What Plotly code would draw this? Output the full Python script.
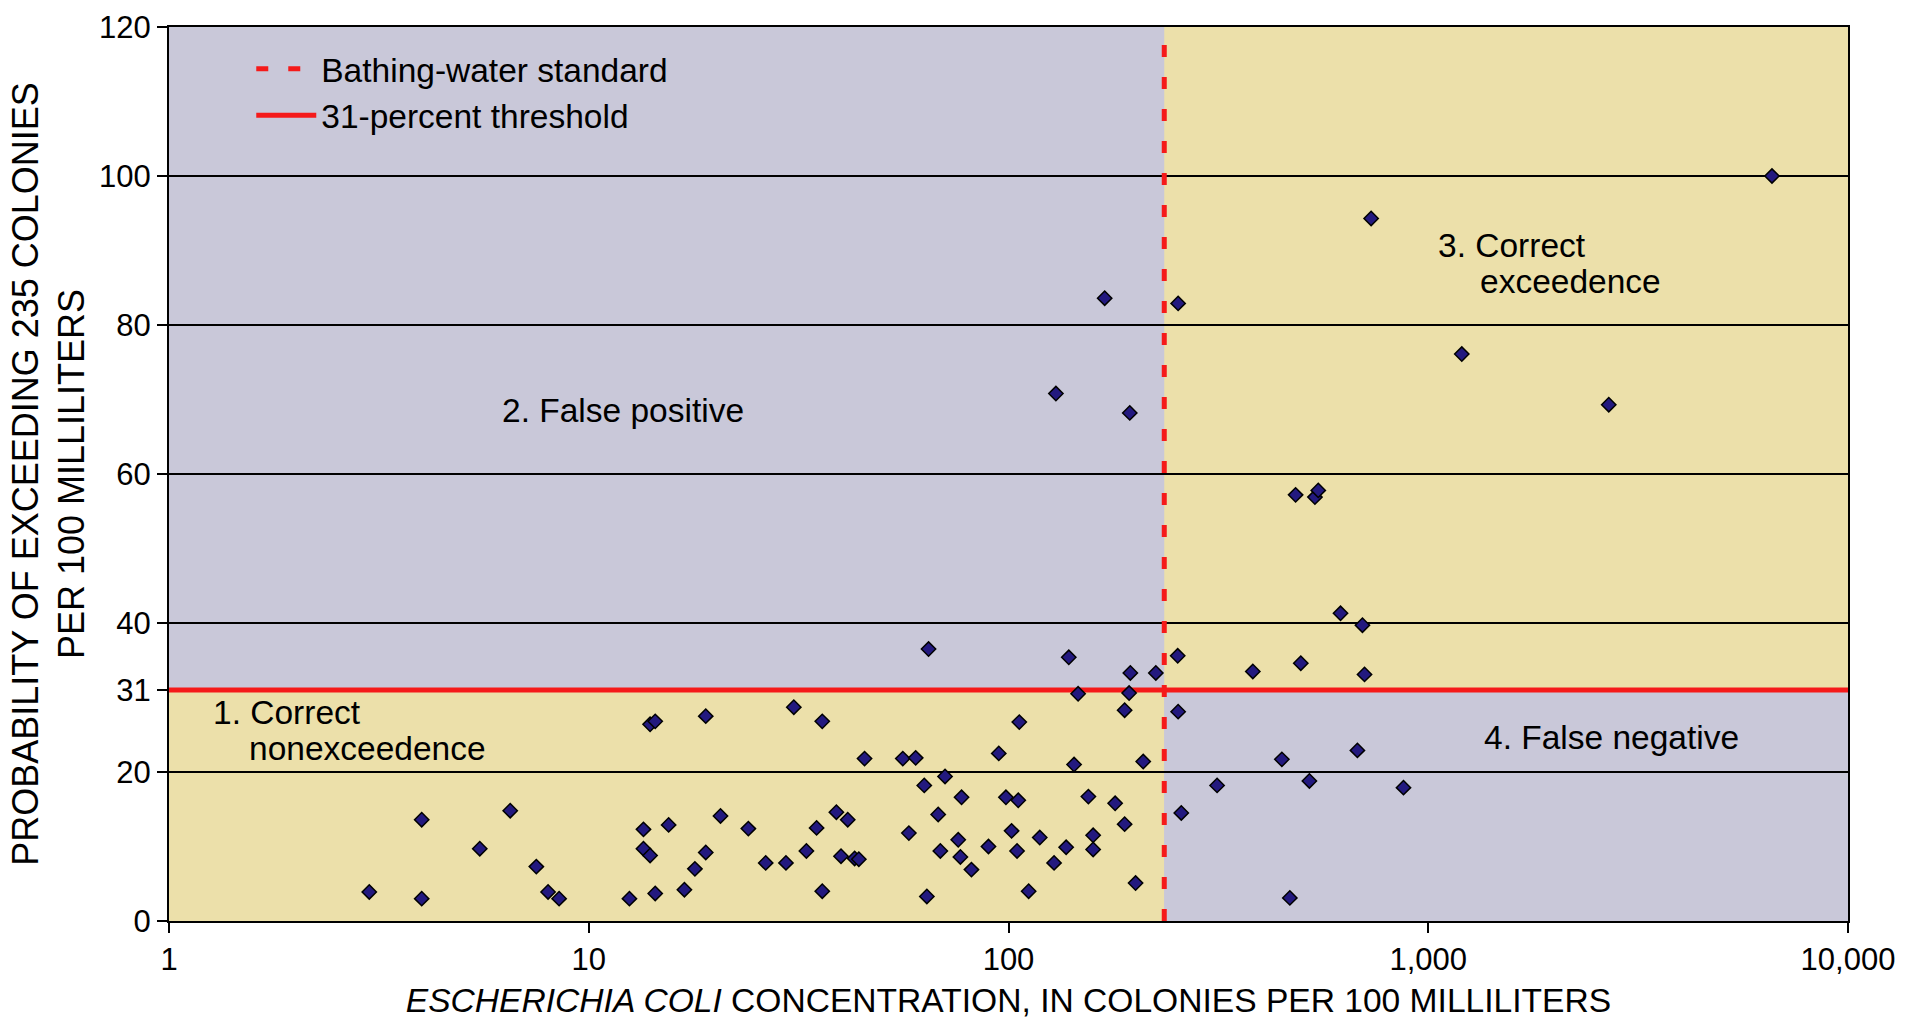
import math
import plotly.graph_objects as go

# ---------------- data ----------------
STANDARD = 235        # bathing-water standard, colonies per 100 mL
THRESHOLD = 31        # 31-percent probability threshold

ecoli = [3.0, 4.0, 4.0, 5.5, 6.5, 7.5, 8.0, 8.5, 12.5, 13.5, 13.5, 14.0, 14.0, 14.4, 14.4,
         15.5, 16.9, 17.9, 19.0, 19.0, 20.6, 24.0, 26.4, 29.5, 30.8, 33.0, 34.9, 36.0, 36.0,
         38.9, 39.9, 41.4, 43.0, 44.0, 45.4, 56.0, 57.9, 60.1, 63.0, 63.9, 68.0, 68.8, 70.6,
         75.9, 76.8, 77.3, 81.6, 89.6, 94.8, 98.6, 101.7, 104.8, 105.5, 106.1, 111.7, 118.7,
         128.4, 137.2, 143.3, 146.5, 155.0, 159.1, 159.1, 179.5, 189.1, 189.1, 193.8, 200.8,
         209.4,
         64.5, 129.7, 139.2, 169.5, 194.5, 195.1, 224.4,
         253.0, 253.6, 382, 483, 497, 537, 547, 618, 697, 705, 731, 1202, 2692, 6590,
         253.6, 258, 314, 448, 468, 521, 678, 873]

probability = [3.9, 13.6, 3.0, 9.7, 14.8, 7.3, 3.9, 3.0, 3.0, 12.3, 9.7, 8.8, 26.4, 26.8, 3.7,
               12.9, 4.2, 7.0, 27.5, 9.2, 14.1, 12.4, 7.8, 7.8, 28.7, 9.4, 12.5, 26.8, 4.0,
               14.6, 8.7, 13.6, 8.4, 8.3, 21.8, 21.8, 11.8, 21.9, 18.2, 3.3, 14.3, 9.4, 19.4,
               10.9, 8.6, 16.6, 6.9, 10.0, 22.5, 16.6, 12.1, 9.4, 16.2, 26.7, 4.0, 11.2,
               7.8, 9.9, 21.0, 30.5, 16.7, 11.5, 9.6, 15.8, 28.3, 13.0, 30.6, 5.1,
               21.4,
               36.5, 70.8, 35.4, 83.6, 68.2, 33.3, 33.3,
               35.6, 82.9, 33.5, 57.2, 34.6, 56.9, 57.8, 41.3, 39.7, 33.1, 94.3, 76.1, 69.3, 100.0,
               28.1, 14.5, 18.2, 21.7, 3.1, 18.8, 22.9, 17.9]

x_range = [1, 10000]
y_range = [0, 120]
x_tickvals = [1, 10, 100, 1000, 10000]
x_ticktext = ["1", "10", "100", "1,000", "10,000"]
y_tickvals = [0, 20, 31, 40, 60, 80, 100, 120]
y_ticktext = ["0", "20", "31", "40", "60", "80", "100", "120"]

region_labels = ["2. False positive", "1. Correct", "nonexceedence",
                 "3. Correct", "exceedence", "4. False negative"]
region_label_x = [6.14, 1.26, 1.53, 1046, 1315, 1342]
region_label_y = [68.5, 28.0, 23.2, 90.7, 85.9, 24.6]

# ---------------- styles ----------------
LAV = "#C9C8D9"
TAN = "#ECE0AA"
RED = "#F51A1A"
FONT = "Liberation Sans, Arial, sans-serif"

fig = go.Figure()

# quadrant backgrounds
quads = [
    (x_range[0], STANDARD, y_range[0], THRESHOLD, TAN),
    (x_range[0], STANDARD, THRESHOLD, y_range[1], LAV),
    (STANDARD, x_range[1], THRESHOLD, y_range[1], TAN),
    (STANDARD, x_range[1], y_range[0], THRESHOLD, LAV),
]
for x0, x1, y0, y1, c in quads:
    fig.add_shape(type="rect", xref="x", yref="y", x0=x0, x1=x1, y0=y0, y1=y1,
                  fillcolor=c, line=dict(width=0), layer="below")

fig.add_trace(go.Scatter(x=[STANDARD, STANDARD], y=y_range, mode="lines",
                         name="Bathing-water standard",
                         line=dict(color=RED, width=5, dash="12px,20px"),
                         hoverinfo="skip"))
fig.add_trace(go.Scatter(x=x_range, y=[THRESHOLD, THRESHOLD], mode="lines",
                         name="31-percent threshold",
                         line=dict(color=RED, width=5),
                         hoverinfo="skip"))
fig.add_trace(go.Scatter(x=ecoli, y=probability, mode="markers", showlegend=False,
                         marker=dict(symbol="diamond", size=11, color="#23197F",
                                     line=dict(color="black", width=1.5))))

# annotations on a log axis take log10 positions
for t, xv, yv in zip(region_labels, region_label_x, region_label_y):
    fig.add_annotation(x=math.log10(xv), y=yv, xref="x", yref="y", text=t, showarrow=False,
                       xanchor="left", yanchor="middle",
                       font=dict(family=FONT, size=33.5, color="black"))

fig.update_xaxes(type="log", range=[0, 4], tickvals=x_tickvals, ticktext=x_ticktext,
                 showgrid=False, zeroline=False, showline=True, linecolor="black",
                 linewidth=2, mirror=True, ticks="outside", ticklen=10, tickwidth=2,
                 tickcolor="black", tickfont=dict(family=FONT, size=31, color="black"),
                 title=dict(text="<i>ESCHERICHIA COLI</i> CONCENTRATION, IN COLONIES PER 100 MILLILITERS",
                            font=dict(family=FONT, size=33.6, color="black"), standoff=14))
fig.update_yaxes(range=y_range, tickvals=y_tickvals, ticktext=y_ticktext,
                 showgrid=True, gridcolor="black", gridwidth=2, zeroline=False,
                 showline=True, linecolor="black", linewidth=2, mirror=True,
                 ticks="outside", ticklen=10, tickwidth=2, tickcolor="black",
                 tickfont=dict(family=FONT, size=31, color="black"),
                 title=dict(text="PROBABILITY OF EXCEEDING 235 COLONIES<br>PER 100 MILLILITERS",
                            font=dict(family=FONT, size=36, color="black"), standoff=3))

fig.update_layout(
    width=1925, height=1019,
    margin=dict(l=169, r=77, t=27, b=98, autoexpand=False),
    paper_bgcolor="white", plot_bgcolor=LAV,
    showlegend=True,
    legend=dict(x=0.049, y=0.985, xanchor="left", yanchor="top",
                bgcolor="rgba(0,0,0,0)", borderwidth=0,
                font=dict(family=FONT, size=33.5, color="black"), itemwidth=60),
)

fig.write_html("out.html", config={"displayModeBar": False},
               post_script="document.body.style.margin='0';")
